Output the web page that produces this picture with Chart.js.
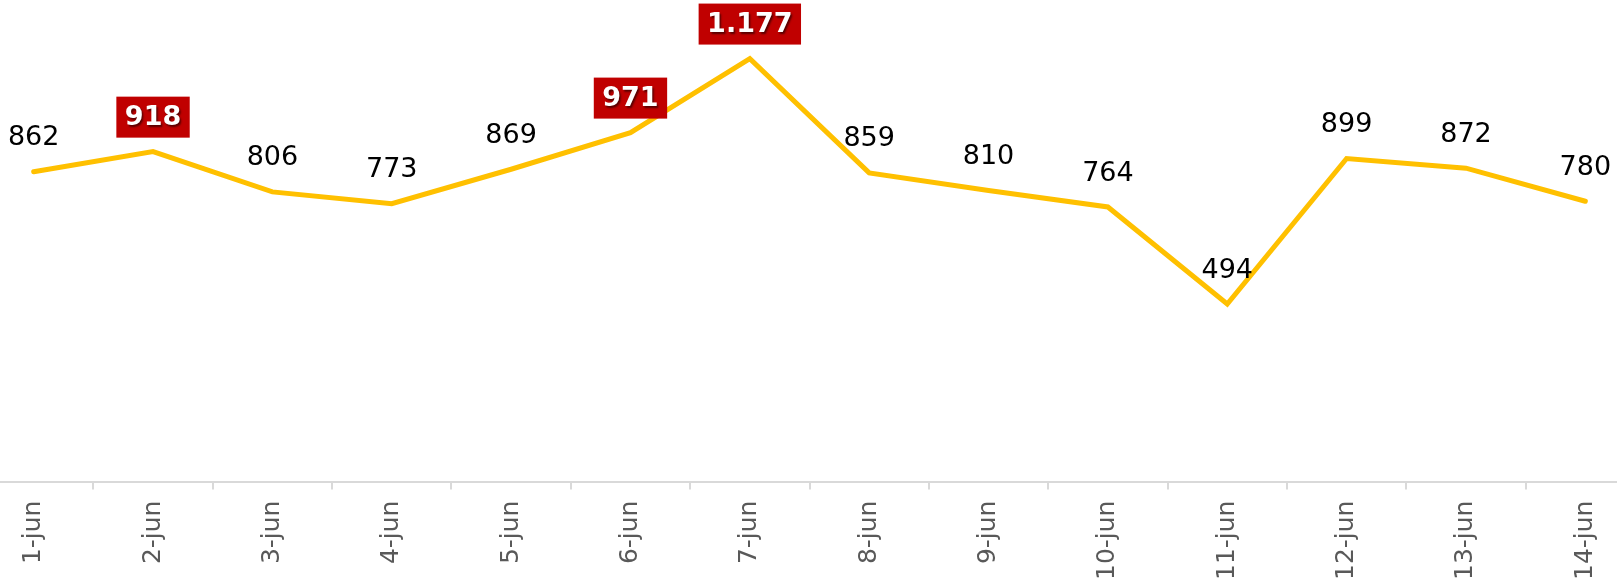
<!DOCTYPE html>
<html>
<head>
<meta charset="UTF-8">
<title>Daily trend</title>
<script src="https://cdn.jsdelivr.net/npm/chart.js@4.4.0/dist/chart.umd.min.js"></script>
<style>
  html, body { margin: 0; padding: 0; background: #fff; overflow: hidden; }
  .wrap { position: absolute; left: -26px; top: 0; width: 1671px; height: 591px; }
</style>
</head>
<body>
<div class="wrap"><canvas id="chart"></canvas></div>
<script>
const days = ['1-jun', '2-jun', '3-jun', '4-jun', '5-jun', '6-jun', '7-jun',
  '8-jun', '9-jun', '10-jun', '11-jun', '12-jun', '13-jun', '14-jun'];
const values = [862, 918, 806, 773, 869, 971, 1177, 859, 810, 764, 494, 899, 872, 780];
// points whose label sits in a red box
const highlight = [1, 5, 6];

const fmt = v => String(v).replace(/\B(?=(\d{3})+(?!\d))/g, '.');

// value labels above each point
const valueLabels = {
  id: 'valueLabels',
  afterDatasetsDraw(chart) {
    const ctx = chart.ctx;
    const meta = chart.getDatasetMeta(0);
    ctx.save();
    ctx.textAlign = 'center';
    ctx.textBaseline = 'middle';
    meta.data.forEach((pt, i) => {
      const text = fmt(values[i]);
      const y = pt.y - 34.5;
      if (highlight.includes(i)) {
        ctx.font = 'bold 27px "DejaVu Sans", Verdana, sans-serif';
        const w = ctx.measureText(text).width + 17;
        const h = 41;
        ctx.fillStyle = '#C00000';
        ctx.fillRect(pt.x - w / 2, y - h / 2, w, h);
        ctx.shadowColor = 'rgba(0,0,0,0.55)';
        ctx.shadowOffsetX = 1.5;
        ctx.shadowOffsetY = 1.5;
        ctx.shadowBlur = 2;
        ctx.fillStyle = '#fff';
        ctx.fillText(text, pt.x, y + 1);
        ctx.shadowColor = 'transparent';
      } else {
        ctx.font = '27px "DejaVu Sans", Verdana, sans-serif';
        ctx.fillStyle = '#000';
        ctx.fillText(text, pt.x, y + 1);
      }
    });
    ctx.restore();
  }
};

new Chart(document.getElementById('chart'), {
  type: 'line',
  data: {
    labels: days,
    datasets: [{
      data: values,
      borderColor: '#FFC000',
      borderWidth: 5,
      borderCapStyle: 'round',
      pointRadius: 0,
      tension: 0,
      fill: false
    }]
  },
  options: {
    responsive: true,
    maintainAspectRatio: false,
    animation: false,
    layout: { padding: { top: 0, bottom: 0, left: 0, right: 0 } },
    plugins: { legend: { display: false }, tooltip: { enabled: false } },
    scales: {
      y: { display: false, min: 0, max: 1340 },
      x: {
        offset: true,
        border: { color: '#d9d9d9', width: 2 },
        grid: { offset: true, drawOnChartArea: false, drawTicks: true, tickLength: 8, color: '#d9d9d9', lineWidth: 2 },
        ticks: {
          minRotation: 90,
          maxRotation: 90,
          padding: 11,
          color: '#595959',
          font: { family: '"DejaVu Sans", Verdana, sans-serif', size: 25 }
        }
      }
    }
  },
  plugins: [valueLabels]
});
</script>
</body>
</html>
